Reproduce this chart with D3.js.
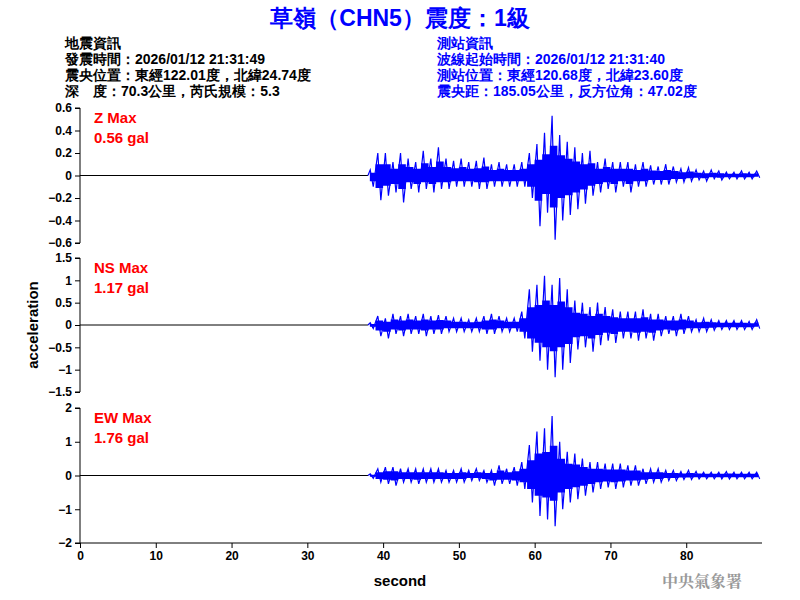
<!DOCTYPE html>
<html><head><meta charset="utf-8">
<script src="https://cdn.jsdelivr.net/npm/d3@7"></script>
<style>body{margin:0;background:#fff}text{font-family:"Liberation Sans",Arial,sans-serif}</style>
</head><body><svg id="chart" width="800" height="600"></svg>
<script>
// Seismogram peaks per second, from t = 38 s to 89 s
const startSec = 38;
const zMax = [0.05,0.2,0.2,0.12,0.2,0.15,0.12,0.22,0.15,0.25,0.15,0.13,0.15,0.12,0.13,0.16,0.1,0.12,0.1,0.1,0.12,0.2,0.28,0.38,0.53,0.36,0.3,0.25,0.2,0.22,0.12,0.15,0.12,0.12,0.12,0.1,0.12,0.09,0.08,0.1,0.08,0.06,0.07,0.05,0.04,0.05,0.04,0.03,0.03,0.04,0.03,0.04];
const zMin = [-0.1,-0.22,-0.18,-0.15,-0.24,-0.12,-0.15,-0.12,-0.15,-0.12,-0.12,-0.1,-0.1,-0.1,-0.12,-0.12,-0.1,-0.1,-0.1,-0.1,-0.1,-0.2,-0.45,-0.33,-0.57,-0.4,-0.35,-0.3,-0.25,-0.18,-0.15,-0.12,-0.15,-0.1,-0.15,-0.1,-0.1,-0.08,-0.08,-0.08,-0.06,-0.06,-0.05,-0.04,-0.05,-0.03,-0.04,-0.03,-0.03,-0.03,-0.03,-0.02];
const nsMax = [0.05,0.2,0.15,0.25,0.2,0.25,0.2,0.25,0.2,0.22,0.2,0.15,0.15,0.12,0.15,0.2,0.25,0.2,0.15,0.15,0.3,0.8,0.9,1.1,0.9,1.05,0.8,0.55,0.5,0.4,0.5,0.4,0.35,0.3,0.3,0.3,0.35,0.25,0.25,0.2,0.2,0.25,0.2,0.12,0.15,0.12,0.1,0.1,0.1,0.1,0.08,0.12];
const nsMin = [-0.08,-0.25,-0.3,-0.2,-0.25,-0.2,-0.2,-0.25,-0.2,-0.2,-0.15,-0.15,-0.15,-0.15,-0.15,-0.2,-0.2,-0.15,-0.15,-0.15,-0.3,-0.6,-0.8,-1.0,-1.17,-1.0,-0.85,-0.55,-0.5,-0.6,-0.45,-0.35,-0.4,-0.3,-0.3,-0.35,-0.3,-0.35,-0.25,-0.2,-0.25,-0.2,-0.15,-0.15,-0.15,-0.12,-0.1,-0.1,-0.1,-0.1,-0.1,-0.08];
const ewMax = [0.05,0.2,0.25,0.25,0.2,0.2,0.2,0.2,0.2,0.2,0.15,0.15,0.2,0.15,0.2,0.15,0.15,0.3,0.2,0.25,0.4,0.9,1.3,1.4,1.76,1.0,0.7,0.65,0.5,0.4,0.4,0.35,0.35,0.35,0.3,0.3,0.2,0.2,0.2,0.15,0.15,0.12,0.15,0.12,0.1,0.1,0.1,0.12,0.1,0.1,0.1,0.1];
const ewMin = [-0.08,-0.2,-0.25,-0.3,-0.2,-0.2,-0.25,-0.2,-0.2,-0.2,-0.2,-0.2,-0.2,-0.15,-0.15,-0.2,-0.3,-0.25,-0.25,-0.3,-0.4,-0.8,-1.2,-1.3,-1.5,-1.0,-0.8,-0.7,-0.6,-0.5,-0.4,-0.35,-0.4,-0.35,-0.3,-0.3,-0.25,-0.2,-0.2,-0.15,-0.15,-0.12,-0.12,-0.1,-0.1,-0.1,-0.1,-0.1,-0.1,-0.1,-0.1,-0.1];

const panels = [
  { name: "Z Max", peak: "0.56 gal", max: zMax, min: zMin, domain: [-0.6, 0.6], ticks: [-0.6,-0.4,-0.2,0,0.2,0.4,0.6], top: 108, bottom: 243 },
  { name: "NS Max", peak: "1.17 gal", max: nsMax, min: nsMin, domain: [-1.5, 1.5], ticks: [-1.5,-1,-0.5,0,0.5,1,1.5], top: 258, bottom: 392 },
  { name: "EW Max", peak: "1.76 gal", max: ewMax, min: ewMin, domain: [-2, 2], ticks: [-2,-1,0,1,2], top: 408, bottom: 543 }
];
const leftInfo = ["地震資訊", "發震時間：2026/01/12 21:31:49", "震央位置：東經122.01度，北緯24.74度", "深　度：70.3公里，芮氏規模：5.3"];
const rightInfo = ["測站資訊", "波線起始時間：2026/01/12 21:31:40", "測站位置：東經120.68度，北緯23.60度", "震央距：185.05公里，反方位角：47.02度"];
const xTicks = [0,10,20,30,40,50,60,70,80];

const svg = d3.select("#chart");
const x = d3.scaleLinear().domain([0, 90]).range([80, 762]);

// Title and header
svg.append("text").attr("x", 400).attr("y", 26).attr("text-anchor", "middle")
  .attr("fill", "#0000ff").attr("font-size", 23).attr("font-weight", "bold").text("草嶺（CHN5）震度：1級");
leftInfo.forEach((t, i) => svg.append("text").attr("x", 65).attr("y", 48 + i * 16)
  .attr("font-size", 14).attr("font-weight", "bold").text(t));
rightInfo.forEach((t, i) => svg.append("text").attr("x", 437).attr("y", 48 + i * 16)
  .attr("font-size", 14).attr("font-weight", "bold").attr("fill", "#0000ff").text(t));

panels.forEach(p => {
  const y = d3.scaleLinear().domain(p.domain).range([p.bottom, p.top]);
  const g = svg.append("g").attr("transform", "translate(80,0)")
    .call(d3.axisLeft(y).tickValues(p.ticks).tickSize(5).tickFormat(d3.format("")));
  g.selectAll("text").attr("font-size", 12).attr("font-weight", "bold").attr("font-family", "Liberation Sans, Arial");
  g.select(".domain").attr("d", `M-5,${p.top}H0V${p.bottom}H-5`);

  // flat pre-event trace
  svg.append("line").attr("x1", x(0)).attr("x2", x(startSec)).attr("y1", y(0)).attr("y2", y(0))
    .attr("stroke", "#000").attr("stroke-width", 1);

  // dense core of the waveform (about half the peak envelope)
  const env = p.max.map((v, i) => ({ t: startSec + i + 0.5, hi: v * 0.5, lo: p.min[i] * 0.5 }));
  env.unshift({ t: startSec, hi: 0, lo: 0 });
  svg.append("path").datum(env).attr("fill", "#0000ff").attr("stroke", "none")
    .attr("d", d3.area().x(d => x(d.t)).y0(d => y(d.lo)).y1(d => y(d.hi)).curve(d3.curveStep));
  // peak spikes
  const pts = [[startSec, 0]];
  p.max.forEach((v, i) => {
    pts.push([startSec + i + 0.3, v]);
    pts.push([startSec + i + 0.7, p.min[i]]);
  });
  svg.append("path").datum(pts).attr("fill", "none").attr("stroke", "#0000ff").attr("stroke-width", 1.2)
    .attr("d", d3.line().x(d => x(d[0])).y(d => y(d[1])));

  svg.append("text").attr("x", 94).attr("y", p.top + 15).attr("fill", "#ff0000")
    .attr("font-size", 15).attr("font-weight", "bold").text(p.name);
  svg.append("text").attr("x", 94).attr("y", p.top + 35).attr("fill", "#ff0000")
    .attr("font-size", 15).attr("font-weight", "bold").text(p.peak);
});

const xa = svg.append("g").attr("transform", "translate(0,543)")
  .call(d3.axisBottom(x).tickValues(xTicks).tickSize(5));
xa.selectAll("text").attr("font-size", 12).attr("font-weight", "bold").attr("font-family", "Liberation Sans, Arial");
xa.select(".domain").attr("d", "M80,0H762");

svg.append("text").attr("x", 400).attr("y", 586).attr("text-anchor", "middle")
  .attr("font-size", 15).attr("font-weight", "bold").text("second");
svg.append("text").attr("transform", "translate(38,325) rotate(-90)").attr("text-anchor", "middle")
  .attr("font-size", 15).attr("font-weight", "bold").text("acceleration");
svg.append("text").attr("x", 702).attr("y", 587).attr("text-anchor", "middle")
  .attr("font-size", 16).attr("font-weight", "bold").attr("fill", "#999")
  .style("font-family", "Noto Serif CJK TC, Noto Sans CJK TC, serif").text("中央氣象署");
</script></body></html>
